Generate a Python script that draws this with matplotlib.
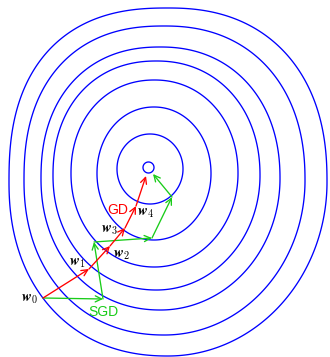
import numpy as np
import matplotlib
matplotlib.use("Agg")
import matplotlib.pyplot as plt
from matplotlib.patches import Polygon

plt.rcParams["mathtext.fontset"] = "cm"

# Level sets of the loss around the minimum w* = (0, 0): extents of each closed contour
contour_left = [-6, -32, -52, -78, -96, -108, -125, -140]
contour_right = [5, 34, 62, 89, 111, 131, 156, 178]
contour_top = [6, 34, 61, 88, 107, 121, 142, 160]
contour_bottom = [-5, -36, -72, -99, -122, -142, -167, -188]

# Gradient descent iterates w0 .. w4 and the final step toward w*
gd_x = [-106, -60, -39, -24, -13, -3]
gd_y = [-130, -101, -78, -60, -38, -8]

# Stochastic gradient descent iterates
sgd_x = [-106, -46, -55, 3, 23, 4]
sgd_y = [-130, -131, -74, -70, -29, -6]

iter_labels = [r"$\boldsymbol{w}_0$", r"$\boldsymbol{w}_1$", r"$\boldsymbol{w}_2$",
               r"$\boldsymbol{w}_3$", r"$\boldsymbol{w}_4$"]
iter_label_pos = [(-119, -130), (-72, -95), (-27.5, -86), (-39, -61.5), (-3.5, -44.5)]

BLUE = "#0000ff"
RED = "#ff0000"
GREEN = "#19cc19"

fig = plt.figure(figsize=(3.30, 3.57), dpi=100)
ax = fig.add_axes([0, 0, 1, 1])
ax.set_xlim(-149, 181)
ax.set_ylim(-189, 168)
ax.axis("off")

# Contours: rounded superellipses, a little squarer toward the outside and in the upper half
t = np.linspace(0, 2 * np.pi, 1440, endpoint=False)
a_max = (contour_right[-1] - contour_left[-1]) / 2
for L, R, T, B in zip(contour_left, contour_right, contour_top, contour_bottom):
    cx, cy = (L + R) / 2, (T + B) / 2
    a, b = (R - L) / 2, (T - B) / 2
    s = (a / a_max) ** 2
    c, sn = np.cos(t), np.sin(t)
    p = np.where(sn >= 0,
                 np.where(c < 0, 2 + 0.45 * s, 2 + 0.3 * s),
                 np.where(c < 0, 2 + 0.2 * s, 2.0))
    x = cx + a * np.sign(c) * np.abs(c) ** (2 / p)
    y = cy + b * np.sign(sn) * np.abs(sn) ** (2 / p)
    ax.add_patch(Polygon(np.column_stack([x, y]), closed=True, fill=False,
                         edgecolor=BLUE, lw=0.95, joinstyle="round"))

arrow_style = "->,head_length=0.45,head_width=0.22"


def draw_path(xs, ys, color):
    for i in range(len(xs) - 1):
        ax.annotate("", xy=(xs[i + 1], ys[i + 1]), xytext=(xs[i], ys[i]),
                    arrowprops=dict(arrowstyle=arrow_style, color=color, lw=0.95,
                                    shrinkA=0, shrinkB=0, mutation_scale=10))


draw_path(sgd_x, sgd_y, GREEN)
draw_path(gd_x, gd_y, RED)

for lab, (lx, ly) in zip(iter_labels, iter_label_pos):
    ax.text(lx, ly, lab, fontsize=10.5, ha="center", va="center", color="black")

ax.text(-31, -42, "GD", fontsize=10, color=RED, ha="center", va="center",
        family="Liberation Sans")
ax.text(-45.5, -143.5, "SGD", fontsize=10, color=GREEN, ha="center", va="center",
        family="Liberation Sans")

fig.savefig("out.png", dpi=100)
